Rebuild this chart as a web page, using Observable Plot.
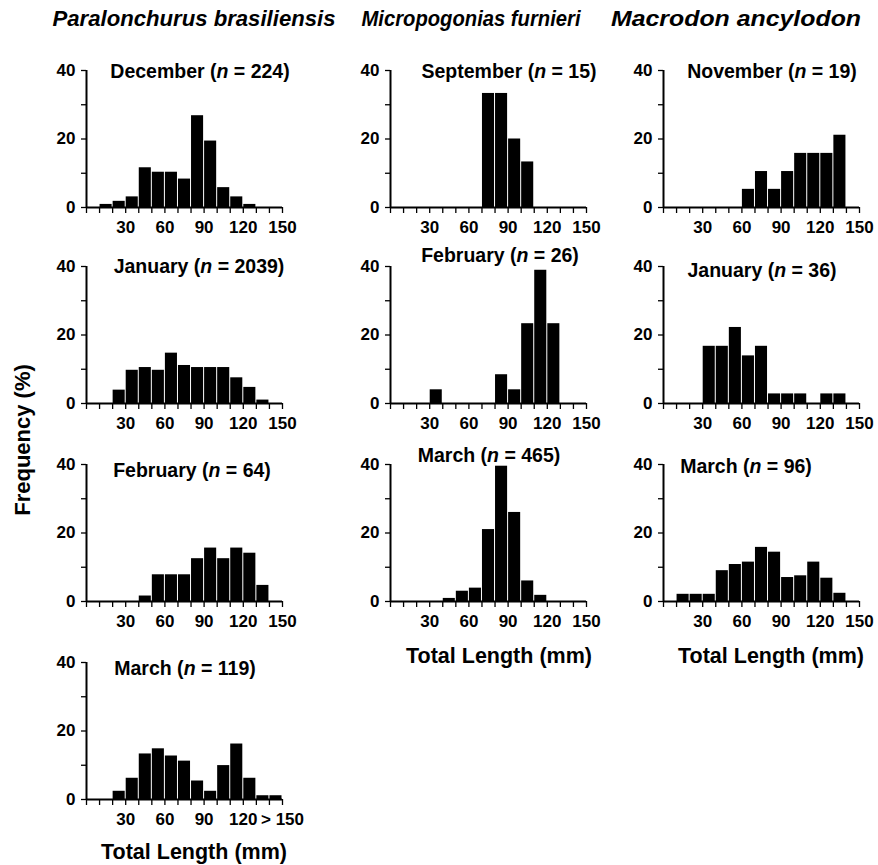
<!DOCTYPE html>
<html><head><meta charset="utf-8">
<script src="https://cdn.jsdelivr.net/npm/d3@7"></script>
<script src="https://cdn.jsdelivr.net/npm/@observablehq/plot@0.6"></script>
<style>
body{margin:0;background:#fff;}
#chart{position:relative;width:878px;height:865px;overflow:hidden;background:#fff;font-family:"Liberation Sans",Arial,sans-serif;}
.panel{position:absolute;}
#overlay{position:absolute;left:0;top:0;pointer-events:none;}
</style></head><body><div id="chart"></div>
<script>
// ---------- data ----------
const binLower = [0,10,20,30,40,50,60,70,80,90,100,110,120,130,140];
const binUpper = [10,20,30,40,50,60,70,80,90,100,110,120,130,140,150];
const xTickValues = [0,10,20,30,40,50,60,70,80,90,100,110,120,130,140,150];
const xTickLabels = ["30","60","90","120","150"];
const xTickLabelsLast = ["30","60","90","120","> 150"];
const yTickValues = [0,10,20,30,40];
const yTickLabels = ["0","20","40"];

const species = ["Paralonchurus brasiliensis","Micropogonias furnieri","Macrodon ancylodon"];

// Frequency (%) per 10-mm bin
const pbDecember = [0,0.9,1.8,3.1,11.6,10.3,10.3,8.3,26.8,19.4,5.8,3.1,0.9,0,0];
const pbJanuary  = [0,0,3.9,9.7,10.5,9.7,14.7,11.1,10.5,10.5,10.5,7.5,4.7,1.0,0];
const pbFebruary = [0,0,0,0,1.6,7.8,7.8,7.8,12.5,15.6,12.5,15.6,14.1,4.7,0];
const pbMarch    = [0,0,2.4,6.2,13.3,14.8,12.7,11.2,5.4,2.4,9.9,16.2,6.2,1.1,1.1];
const mfSeptember= [0,0,0,0,0,0,0,33.3,33.3,20.0,13.3,0,0,0,0];
const mfFebruary = [0,0,0,4.0,0,0,0,0,8.4,4.0,23.3,38.9,23.3,0,0];
const mfMarch    = [0,0,0,0,0.9,3.0,3.9,21.0,39.5,26.0,6.0,1.8,0,0,0];
const maNovember = [0,0,0,0,0,0,5.3,10.5,5.3,10.5,15.8,15.8,15.8,21.1,0];
const maJanuary  = [0,0,0,16.7,16.7,22.2,13.9,16.7,2.8,2.8,2.8,0,2.8,2.8,0];
const maMarch    = [0,2.1,2.1,2.1,9.0,10.8,11.5,15.8,14.4,7.0,7.5,11.5,6.8,2.4,0];

const panelMonths = ["December","January","February","March","September","February","March","November","January","March"];
const panelN      = [224,2039,64,119,15,26,465,19,36,96];
const panelValues = [pbDecember,pbJanuary,pbFebruary,pbMarch,mfSeptember,mfFebruary,mfMarch,maNovember,maJanuary,maMarch];
const panelCol    = [0,0,0,0,1,1,1,2,2,2];
const panelRow    = [0,1,2,3,0,1,2,0,1,2];

// ---------- layout ----------
const colAxisX = [86, 390, 663];
const rowTop = [70, 266, 464, 662];
const W = 196, H = 137, ML = 40, MR = 18, MT = 20, MB = 34;
const titleAt = [[200,78],[199,273],[192,477],[185,675],[509,78],[500,262],[489,462],[772,78],[762,277],[746,473]];
const speciesAt = [[194,26],[471,26],[736,26]];
const speciesLen = [283, 219, 250];
const xTitleAt = [[194,859],[499,663],[771,663]];
const FONT = '"Liberation Sans", Arial, Helvetica, sans-serif';

const chart = document.getElementById("chart");

panelValues.forEach((vals, i) => {
  const labels = i === 3 ? xTickLabelsLast : xTickLabels;
  const data = binLower.map((x, k) => ({x1: x, x2: binUpper[k], y: vals[k]})).filter(d => d.y > 0);
  const svg = Plot.plot({
    width: ML + W + MR, height: MT + H + MB,
    marginLeft: ML, marginRight: MR, marginTop: MT, marginBottom: MB,
    x: {domain: [0, 150]},
    y: {domain: [0, 40]},
    style: {fontFamily: FONT, fontSize: "17px", fontWeight: "bold", color: "black", background: "transparent", overflow: "visible"},
    marks: [
      Plot.rectY(data, {x1: "x1", x2: "x2", y: "y", fill: "black", insetLeft: 0.5, insetRight: 0.5}),
      Plot.ruleY([0], {stroke: "black", strokeWidth: 2}),
      Plot.ruleX([0], {stroke: "black", strokeWidth: 2}),
      Plot.axisX({ticks: xTickValues, tickSize: 6, tickPadding: 7, stroke: "black", strokeWidth: 1.3, label: null,
        tickFormat: d => (d > 0 && d % 30 === 0) ? labels[d / 30 - 1] : ""}),
      Plot.axisY({ticks: yTickValues, tickSize: 5, tickPadding: 6, stroke: "black", strokeWidth: 1.3, label: null,
        tickFormat: d => (d % 20 === 0) ? yTickLabels[d / 20] : ""})
    ]
  });
  const div = document.createElement("div");
  div.className = "panel";
  div.style.left = (colAxisX[panelCol[i]] - ML) + "px";
  div.style.top = (rowTop[panelRow[i]] - MT) + "px";
  div.style.width = (ML + W + MR) + "px";
  div.appendChild(svg);
  chart.appendChild(div);
});

// ---------- text overlay ----------
const ov = d3.select(chart).append("svg").attr("id", "overlay")
  .attr("width", 878).attr("height", 865)
  .style("font-family", FONT).style("font-weight", "bold").attr("fill", "black");

species.forEach((s, i) => {
  ov.append("text").attr("x", speciesAt[i][0]).attr("y", speciesAt[i][1])
    .attr("text-anchor", "middle").attr("textLength", speciesLen[i]).attr("lengthAdjust", "spacingAndGlyphs")
    .style("font-size", "22.5px").style("font-style", "italic").text(s);
});

panelMonths.forEach((m, i) => {
  const t = ov.append("text").attr("x", titleAt[i][0]).attr("y", titleAt[i][1])
    .attr("text-anchor", "middle").style("font-size", "19.5px");
  t.append("tspan").text(m + " (");
  t.append("tspan").style("font-style", "italic").text("n");
  t.append("tspan").text(" = " + panelN[i] + ")");
});

xTitleAt.forEach(p => {
  ov.append("text").attr("x", p[0]).attr("y", p[1]).attr("text-anchor", "middle")
    .style("font-size", "21.5px").text("Total Length (mm)");
});

ov.append("text").attr("transform", "translate(30,440) rotate(-90)").attr("text-anchor", "middle")
  .style("font-size", "22px").text("Frequency (%)");
</script>
</body></html>
